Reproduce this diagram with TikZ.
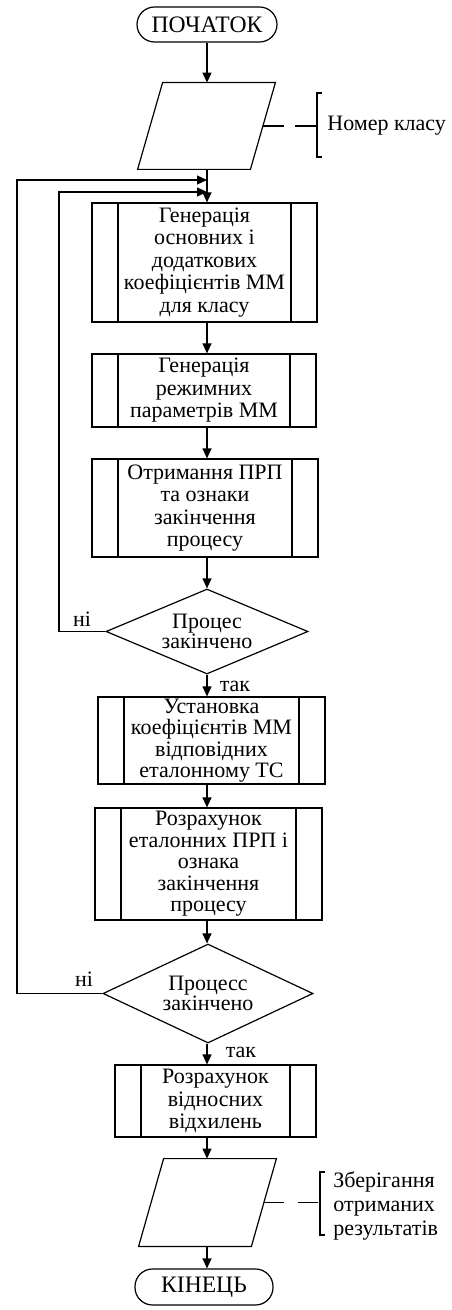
\documentclass[tikz,border=0pt]{standalone}
\usepackage{fontspec}
\setmainfont{Liberation Serif}
\usetikzlibrary{shapes.geometric,arrows.meta,calc}
\begin{document}
\begin{tikzpicture}[x=0.5pt,y=-0.5pt,
  every node/.style={font=\fontsize{11pt}{11.25pt}\selectfont, inner sep=0pt},
  line/.style={line width=0.6pt},
  arr/.style={line width=0.6pt,-{Triangle[length=5pt,width=4.5pt]}},
  term/.style={draw,line width=0.6pt,rectangle,rounded corners=8.75pt,align=center,font=\fontsize{11.8pt}{12pt}\selectfont},
  iobox/.style={rectangle,minimum width=56pt,minimum height=43pt},
  proc/.style={draw,line width=0.6pt,rectangle,align=center,
    path picture={\draw[line width=0.6pt]
      ([xshift=13pt]path picture bounding box.north west) -- ([xshift=13pt]path picture bounding box.south west)
      ([xshift=-13pt]path picture bounding box.north east) -- ([xshift=-13pt]path picture bounding box.south east);}},
  tight/.style={font=\fontsize{11pt}{10.75pt}\selectfont},
  dec/.style={draw,line width=0.6pt,diamond,aspect=2.4,align=center,font=\fontsize{11pt}{10.25pt}\selectfont},
  lbl/.style={}
]
\useasboundingbox (0,0) rectangle (451,1310);
\coordinate (S) at (207,0);

\node[term,minimum width=70pt,minimum height=17.5pt] (start) at (207,24.5) {ПОЧАТОК};
\node[iobox] (p1) at (206.5,126) {};
\draw[line] ([xshift=6.25pt]p1.north west) -- ([xshift=6.25pt]p1.north east)
  -- ([xshift=-6.25pt]p1.south east) -- ([xshift=-6.25pt]p1.south west) -- cycle;
\node[proc,minimum width=112.5pt,minimum height=59.5pt] (b1) at (204.5,262.5)
  {Генерація\\основних і\\додаткових\\коефіцієнтів ММ\\для класу};
\node[proc,minimum width=112pt,minimum height=36.5pt] (b2) at (204,390.5)
  {Генерація\\режимних\\параметрів ММ};
\node[proc,minimum width=113pt,minimum height=49pt] (b3) at (205,508)
  {Отримання ПРП\\та ознаки\\закінчення\\процесу};
\node[dec,minimum width=101pt,minimum height=42.5pt] (d1) at (207,631.5)
  {Процес\\закінчено};
\node[proc,tight,minimum width=113.5pt,minimum height=43.5pt] (b4) at (211.5,740.5)
  {Установка\\коефіцієнтів ММ\\відповідних\\еталонному ТС};
\node[proc,tight,minimum width=113.5pt,minimum height=56pt] (b5) at (208.5,864)
  {Розрахунок\\еталонних ПРП і\\ознака\\закінчення\\процесу};
\node[dec,minimum width=105pt,minimum height=49.5pt] (d2) at (208,993.5)
  {Процесс\\закінчено};
\node[proc,minimum width=100.5pt,minimum height=36pt] (b6) at (215.5,1101)
  {Розрахунок\\відносних\\відхилень};
\node[iobox,minimum height=43.5pt] (p2) at (207.5,1202.5) {};
\draw[line] ([xshift=6.25pt]p2.north west) -- ([xshift=6.25pt]p2.north east)
  -- ([xshift=-6.25pt]p2.south east) -- ([xshift=-6.25pt]p2.south west) -- cycle;
\node[term,minimum width=69pt,minimum height=18pt] (end) at (204,1287) {КІНЕЦЬ};

% labels
\node[lbl] (no1) at (82,619) {ні};
\node[lbl] (yes1) at (235,686) {так};
\node[lbl] (no2) at (84,979) {ні};
\node[lbl] (yes2) at (241,1052) {так};

% main arrows
\draw[arr] (start.south -| S) -- (p1.north -| S);
\draw[arr] (p1.south -| S) -- (b1.north -| S);
\draw[arr] (b1.south -| S) -- (b2.north -| S);
\draw[arr] (b2.south -| S) -- (b3.north -| S);
\draw[arr] (b3.south -| S) -- (d1.north -| S);
\draw[arr] (d1.south -| S) -- (b4.north -| S);
\draw[arr] (b4.south -| S) -- (b5.north -| S);
\draw[arr] (b5.south -| S) -- (d2.north -| S);
\draw[arr] (d2.south -| S) -- (b6.north -| S);
\draw[arr] (b6.south -| S) -- (p2.north -| S);
\draw[arr] (p2.south -| S) -- (end.north -| S);

% loops
\coordinate (M1) at (207,180);
\coordinate (M2) at (207,192);
\draw[arr] (d1.west) -- (59,631.5) |- (M2);
\draw[arr] (d2.west) -- (17,993.5) |- (M1);

% annotations
\coordinate (k1) at (317,126);
\draw[line,dash pattern=on 10.5pt off 5.5pt] (p1.east) -- (k1);
\draw[line] (322,93) -- (317,93) -- (317,157) -- (322,157);
\node[anchor=west] (n1) at (327,126) {Номер класу};

\coordinate (k2) at (320,1202.5);
\draw[line,dash pattern=on 10pt off 7pt] (p2.east) -- (k2);
\draw[line] (325,1172) -- (320,1172) -- (320,1235) -- (325,1235);
\node[anchor=west,align=left,font=\fontsize{11pt}{12pt}\selectfont] (n2) at (333,1206)
  {Зберігання\\отриманих\\результатів};
\end{tikzpicture}
\end{document}
